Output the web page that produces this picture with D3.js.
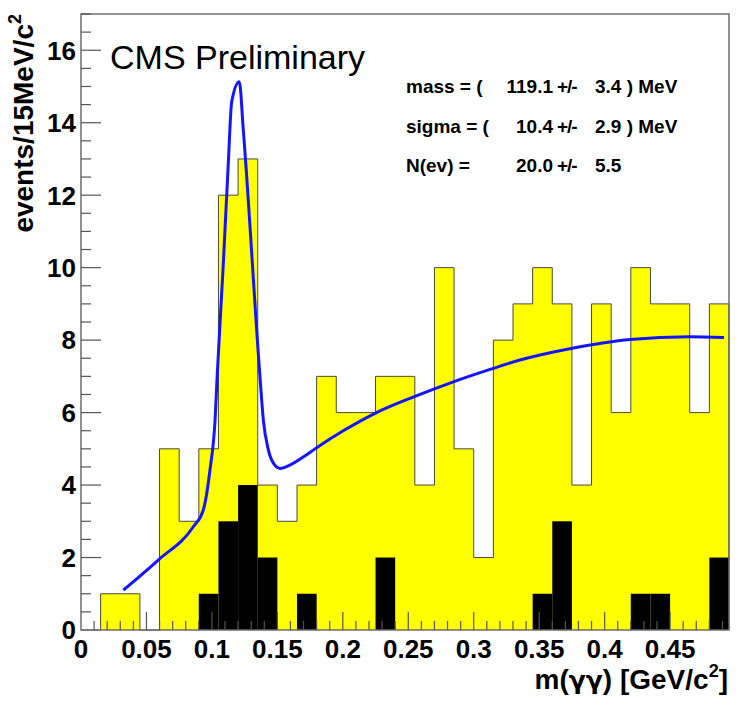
<!DOCTYPE html>
<html>
<head>
<meta charset="utf-8">
<script src="https://cdn.jsdelivr.net/npm/d3@7"></script>
<style>
  body { margin: 0; background: #fff; }
  text { font-family: "Liberation Sans", Arial, sans-serif; }
</style>
</head>
<body>
<svg id="chart" width="739" height="707"></svg>
<script>
// histogram: 33 bins of 15 MeV starting at 0
const binStart = 0;
const binWidth = 0.015;
const allCounts = [0, 1, 1, 0, 5, 3, 5, 12, 13, 4, 3, 4, 7, 6, 6, 7, 7,
  4, 10, 5, 2, 8, 9, 10, 9, 4, 9, 6, 10, 9, 9, 6, 9];
const blackCounts = [0, 0, 0, 0, 0, 0, 1, 3, 4, 2, 0, 1, 0, 0, 0, 2, 0,
  0, 0, 0, 0, 0, 0, 1, 3, 0, 0, 0, 1, 1, 0, 0, 2];

// fitted curve
const fitX = [0.0323, 0.0590, 0.0858, 0.0934, 0.0985, 0.1024, 0.1040, 0.1087,
  0.1125, 0.1151, 0.1209, 0.1240, 0.1367, 0.1393, 0.1431, 0.1480, 0.1520,
  0.1600, 0.1700, 0.1800, 0.2000, 0.2246, 0.2546, 0.2844, 0.3149, 0.3353,
  0.3743, 0.4194, 0.4647, 0.4912];
const fitY = [1.10, 1.93, 2.85, 3.31, 4.41, 5.79, 7.0, 10.1,
  12.87, 14.57, 15.13, 13.79, 7.0, 5.79, 4.97, 4.55, 4.46,
  4.56, 4.78, 5.03, 5.49, 5.98, 6.44, 6.85, 7.22, 7.45,
  7.77, 8.02, 8.09, 8.07];

const statLabels = ["mass = (", "sigma = (", "N(ev) ="];
const statValues = ["119.1", "10.4", "20.0"];
const statErrors = ["3.4 ) MeV", "2.9 ) MeV", "5.5"];

const svg = d3.select("#chart");

const x = d3.scaleLinear().
domain([binStart, binStart + binWidth * allCounts.length]).
range([81, 729]);

const y = d3.scaleLinear().
domain([0, 17]).
range([630, 14]);

const plot = svg.append("g");

// yellow histogram as one step outline
let pts = [[x(binStart), y(0)]];
allCounts.forEach((c, i) => {
  let lo = binStart + i * binWidth;
  pts.push([x(lo), y(c)]);
  pts.push([x(lo + binWidth), y(c)]);
});
pts.push([x(binStart + binWidth * allCounts.length), y(0)]);

plot.append("path").
attr("d", d3.line()(pts)).
attr("fill", "#ffff00").
attr("stroke", "#4a4a3a").
attr("stroke-width", 1);

// black histogram
plot.selectAll("rect.black").
data(blackCounts.map((c, i) => ({ c: c, lo: binStart + i * binWidth }))).
enter().append("rect").
attr("class", "black").
attr("x", d => x(d.lo)).
attr("width", d => x(d.lo + binWidth) - x(d.lo)).
attr("y", d => y(d.c)).
attr("height", d => y(0) - y(d.c)).
attr("fill", "#000");

// fit curve
plot.append("path").
datum(fitX.map((v, i) => [v, fitY[i]])).
attr("d", d3.line().x(d => x(d[0])).y(d => y(d[1])).curve(d3.curveMonotoneX)).
attr("fill", "none").
attr("stroke", "#1414ff").
attr("stroke-width", 3);

// frame
svg.append("rect").
attr("x", x.range()[0]).
attr("y", y.range()[1]).
attr("width", x.range()[1] - x.range()[0]).
attr("height", y.range()[0] - y.range()[1]).
attr("fill", "none").
attr("stroke", "#6e6e6e").
attr("stroke-width", 1.5);

// ticks inside the frame
const tickColor = "#555";
const xMinor = d3.range(1, 50).map(i => i * 0.01);
svg.append("g").selectAll("line").
data(xMinor).
enter().append("line").
attr("x1", d => x(d)).attr("x2", d => x(d)).
attr("y1", y(0)).
attr("y2", d => y(0) - (Math.round(d * 100) % 5 === 0 ? 18 : 9)).
attr("stroke", tickColor).
attr("stroke-width", 1.2);

const yMinor = d3.range(1, 35).map(i => i * 0.5);
svg.append("g").selectAll("line").
data(yMinor).
enter().append("line").
attr("y1", d => y(d)).attr("y2", d => y(d)).
attr("x1", x.range()[0]).
attr("x2", d => x.range()[0] + (d % 2 === 0 ? 20 : 10)).
attr("stroke", tickColor).
attr("stroke-width", 1.2);

// tick labels
const xMajor = d3.range(0, 10).map(i => i * 0.05);
svg.append("g").selectAll("text").
data(xMajor).
enter().append("text").
attr("x", d => x(d)).
attr("y", 658).
attr("text-anchor", "middle").
attr("font-size", 26).
attr("font-weight", "bold").
text(d => d3.format("~g")(+d.toFixed(2)));

const yMajor = d3.range(0, 17, 2);
svg.append("g").selectAll("text").
data(yMajor).
enter().append("text").
attr("x", 76).
attr("y", d => y(d)).
attr("dy", "0.36em").
attr("text-anchor", "end").
attr("font-size", 26).
attr("font-weight", "bold").
text(d => d);

// axis titles
let xt = svg.append("text").
attr("x", 728).
attr("y", 689).
attr("text-anchor", "end").
attr("font-size", 28).
attr("font-weight", "bold");
xt.append("tspan").text("m(");
xt.append("tspan").attr("font-family", "DejaVu Sans").attr("font-size", 25).text("γγ");
xt.append("tspan").text(") [GeV/c");
xt.append("tspan").attr("font-size", 18).attr("dy", -12).text("2");
xt.append("tspan").attr("dy", 12).text("]");

let yt = svg.append("text").
attr("transform", "rotate(-90)").
attr("x", -14).
attr("y", 33).
attr("text-anchor", "end").
attr("font-size", 28).
attr("font-weight", "bold");
yt.append("tspan").text("events/15MeV/c");
yt.append("tspan").attr("font-size", 18).attr("dy", -12).text("2");

// label
svg.append("text").
attr("x", 110).
attr("y", 69).
attr("font-size", 34).
text("CMS Preliminary");

// fit results, numbers right-aligned like a fixed format
const statBase = [93, 132.5, 171.5];
statLabels.forEach((s, i) => {
  let g = svg.append("g").
  attr("font-size", 19).
  attr("font-weight", "bold");
  g.append("text").attr("x", 406).attr("y", statBase[i]).text(s);
  g.append("text").attr("x", 553).attr("y", statBase[i]).
  attr("text-anchor", "end").text(statValues[i]);
  g.append("text").attr("x", 557).attr("y", statBase[i]).
  attr("letter-spacing", -1).text("+/-");
  g.append("text").attr("x", 595).attr("y", statBase[i]).text(statErrors[i]);
});
</script>
</body>
</html>
